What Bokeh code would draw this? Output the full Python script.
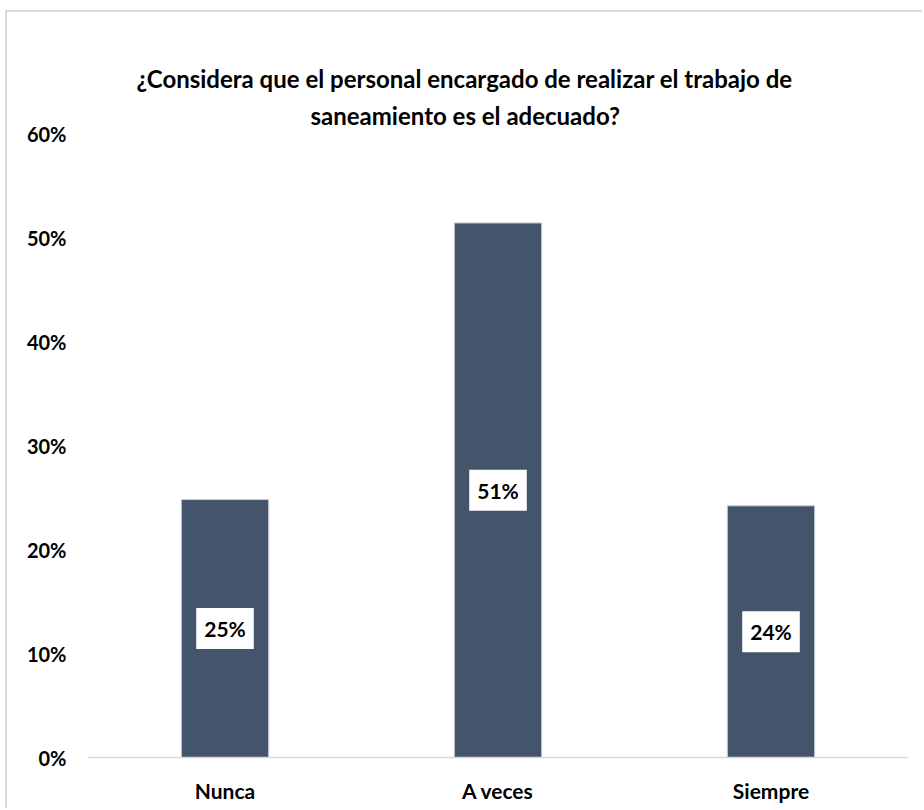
from bokeh.plotting import figure
from bokeh.models import (ColumnDataSource, FactorRange, Range1d, FixedTicker,
                          NumeralTickFormatter, Title)
from bokeh.core.properties import value
from bokeh.embed import file_html
from bokeh.resources import INLINE

# ---- data ----
categories = ["Nunca", "A veces", "Siempre"]
values = [0.248, 0.514, 0.242]
y_ticks = [0.0, 0.1, 0.2, 0.3, 0.4, 0.5, 0.6]
title_lines = ["¿Considera que el personal encargado de realizar el trabajo de",
               "saneamiento es el adecuado?"]

labels = [f"{round(v * 100):d}%" for v in values]
src = ColumnDataSource(dict(cat=categories, val=values,
                            mid=[v / 2 for v in values], lab=labels))

FONT = "Lato"
BAR = "#44546A"

p = figure(width=917, height=798, output_backend="svg", toolbar_location=None,
           x_range=FactorRange(factors=categories, range_padding=0),
           y_range=Range1d(0, 0.6),
           min_border_left=81, min_border_right=17,
           min_border_top=121, min_border_bottom=53)
p.margin = (10, 0, 0, 5)
p.styles = {"border-top": "2px solid #d9d9d9", "border-left": "2px solid #d9d9d9"}
try:
    p.title = None
except Exception:
    p.title.visible = False
p.outline_line_color = None
p.background_fill_color = "white"
p.border_fill_color = "white"
p.xgrid.visible = False
p.ygrid.visible = False

p.vbar(x="cat", top="val", width=0.32, source=src,
       fill_color=BAR, line_color="#c9ced6", line_width=1)

# axes
p.yaxis.ticker = FixedTicker(ticks=y_ticks)
p.yaxis.formatter = NumeralTickFormatter(format="0%")
p.yaxis.axis_line_color = None
p.yaxis.major_tick_line_color = None
p.yaxis.minor_tick_line_color = None
p.yaxis.major_label_standoff = 16
p.yaxis.major_label_text_font = FONT
p.yaxis.major_label_text_font_style = "bold"
p.yaxis.major_label_text_font_size = "20px"
p.yaxis.major_label_text_color = "#000000"

p.xaxis.axis_line_color = "#d9d9d9"
p.xaxis.axis_line_width = 1.5
p.xaxis.major_tick_line_color = None
p.xaxis.minor_tick_line_color = None
p.xaxis.major_label_standoff = 14
p.xaxis.major_label_text_font = FONT
p.xaxis.major_label_text_font_style = "bold"
p.xaxis.major_label_text_font_size = "21px"
p.xaxis.major_label_text_color = "#000000"

# data labels (white boxes)
p.text(x="cat", y="mid", text="lab", source=src,
       text_align="center", text_baseline="middle",
       text_font=value(FONT), text_font_style="bold",
       text_font_size="21px", text_color="#000000",
       background_fill_color="white", padding=8)

# title: second line nearest to the plot, first line above it
for txt, off, so in zip(reversed(title_lines), [222, 48], [8, 4]):
    p.add_layout(Title(text=txt, align="left", offset=off, text_font=FONT,
                       text_font_style="bold", text_font_size="24px",
                       text_color="#000000", standoff=so), "above")

open("out.html", "w").write(file_html(p, INLINE))
